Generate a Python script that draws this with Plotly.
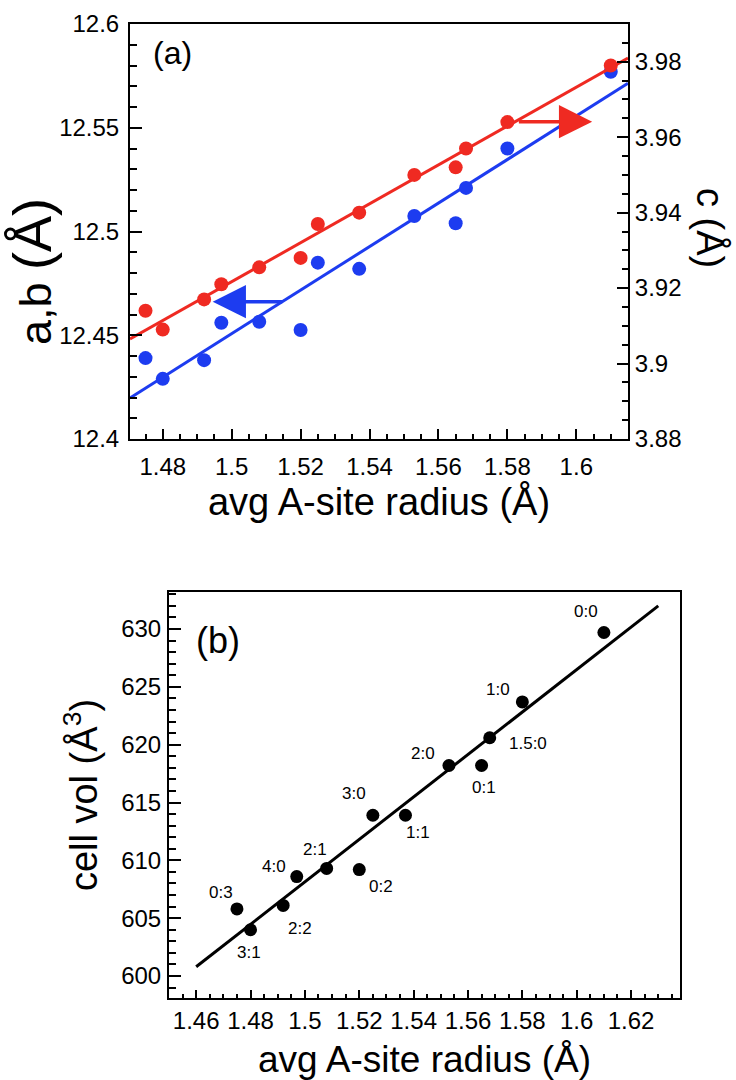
import plotly.graph_objects as go

# ---------------- data ----------------
radius = [1.475, 1.480, 1.492, 1.497, 1.508, 1.520, 1.525, 1.537, 1.553, 1.565, 1.568, 1.580, 1.610]
ab_lat = [12.439, 12.429, 12.438, 12.456, 12.4565, 12.4525, 12.485, 12.482, 12.5075, 12.504, 12.521, 12.540, 12.577]
c_lat = [3.914, 3.909, 3.917, 3.921, 3.9255, 3.928, 3.937, 3.940, 3.950, 3.952, 3.957, 3.964, 3.979]
cell_vol = [605.8, 604.0, 606.1, 608.6, 609.3, 609.2, 613.9, 613.9, 618.2, 618.2, 620.6, 623.7, 629.7]
ratio_labels = ["0:3", "3:1", "2:2", "4:0", "2:1", "0:2", "3:0", "1:1", "2:0", "0:1", "1.5:0", "1:0", "0:0"]

fit_x_a = [1.4705, 1.615]
fit_ab = [12.4198, 12.5714]
fit_c = [3.9065, 3.981]
fit_x_b = [1.46, 1.63]
fit_vol = [600.8, 632.0]

arrow_ab_x = [1.5151, 1.4945]   # tail, tip
arrow_ab_y = [12.4662, 12.4662]
arrow_c_x = [1.5829, 1.6046]
arrow_c_y = [3.9641, 3.9641]

xa_ticks = [1.48, 1.50, 1.52, 1.54, 1.56, 1.58, 1.60]
xa_text = ["1.48", "1.5", "1.52", "1.54", "1.56", "1.58", "1.6"]
ya_ticks = [12.40, 12.45, 12.50, 12.55, 12.60]
ya_text = ["12.4", "12.45", "12.5", "12.55", "12.6"]
y2a_ticks = [3.88, 3.90, 3.92, 3.94, 3.96, 3.98]
y2a_text = ["3.88", "3.9", "3.92", "3.94", "3.96", "3.98"]
xb_ticks = [1.46, 1.48, 1.50, 1.52, 1.54, 1.56, 1.58, 1.60, 1.62]
xb_text = ["1.46", "1.48", "1.5", "1.52", "1.54", "1.56", "1.58", "1.6", "1.62"]
yb_ticks = [600, 605, 610, 615, 620, 625, 630]
yb_text = ["600", "605", "610", "615", "620", "625", "630"]

# ---------------- style ----------------
W, H = 736, 1080
FONT = "Liberation Sans, Arial, Helvetica, sans-serif"
RED = "#ef2a22"
BLUE = "#1d3cf0"
label_shift = [(-16, 16), (-2, -23), (17, -23), (-23, 10), (-12, 19), (22, -17), (-19, 22),
               (13, -17), (-26, 12), (2, -22), (38, -6), (-24, 12), (-18, 21)]


def px(x):
    return x / W


def py(y):
    return 1 - y / H


fig = go.Figure()

# panel (a)
fig.add_trace(go.Scatter(x=fit_x_a, y=fit_c, mode="lines", line=dict(color=RED, width=3),
                         xaxis="x", yaxis="y2", showlegend=False, hoverinfo="skip"))
fig.add_trace(go.Scatter(x=fit_x_a, y=fit_ab, mode="lines", line=dict(color=BLUE, width=3),
                         xaxis="x", yaxis="y", showlegend=False, hoverinfo="skip"))
fig.add_trace(go.Scatter(x=radius, y=c_lat, mode="markers", marker=dict(color=RED, size=14),
                         xaxis="x", yaxis="y2", showlegend=False, name="c"))
fig.add_trace(go.Scatter(x=radius, y=ab_lat, mode="markers", marker=dict(color=BLUE, size=14),
                         xaxis="x", yaxis="y", showlegend=False, name="a,b"))

# panel (b)
fig.add_trace(go.Scatter(x=fit_x_b, y=fit_vol, mode="lines", line=dict(color="black", width=3),
                         xaxis="x3", yaxis="y3", showlegend=False, hoverinfo="skip"))
fig.add_trace(go.Scatter(x=radius, y=cell_vol, mode="markers", marker=dict(color="black", size=13),
                         xaxis="x3", yaxis="y3", showlegend=False, name="cell vol"))

tickfont_a = dict(family=FONT, size=24, color="black")
tickfont_b = dict(family=FONT, size=24, color="black")

common = dict(showgrid=False, zeroline=False, showline=True, linecolor="black", linewidth=2,
              ticks="inside", tickcolor="black", tickwidth=1.5, automargin=False)

fig.update_layout(
    width=W, height=H, template="none",
    paper_bgcolor="white", plot_bgcolor="white",
    margin=dict(l=0, r=0, t=0, b=0),
    font=dict(family=FONT, color="black"),
    xaxis=dict(domain=[px(130), px(628)], range=[1.4705, 1.615], anchor="y", mirror=True,
               tickmode="array", tickvals=xa_ticks, ticktext=xa_text, ticklen=10, tickfont=tickfont_a,
               ticklabelstandoff=5,
               minor=dict(ticks="inside", dtick=0.005, tick0=1.48, ticklen=5, tickcolor="black", tickwidth=1.5),
               title=dict(text="avg A-site radius (Å)", font=dict(family=FONT, size=38), standoff=0),
               **common),
    yaxis=dict(domain=[py(439), py(24)], range=[12.4, 12.6], anchor="x", mirror=True,
               tickmode="array", tickvals=ya_ticks, ticktext=ya_text, ticklen=12, tickfont=tickfont_a,
               ticklabelstandoff=4,
               minor=dict(ticks="inside", dtick=0.01, tick0=12.4, ticklen=7, tickcolor="black", tickwidth=1.5),
               **common),
    yaxis2=dict(domain=[py(439), py(24)], range=[3.88, 3.99], anchor="x", overlaying="y", side="right",
                tickmode="array", tickvals=y2a_ticks, ticktext=y2a_text, ticklen=11, tickfont=tickfont_a,
                minor=dict(ticks="inside", dtick=0.005, tick0=3.88, ticklen=6, tickcolor="black", tickwidth=1.5),
                **common),
    xaxis3=dict(domain=[px(169), px(680)], range=[1.45, 1.638], anchor="y3", mirror=True,
                tickmode="array", tickvals=xb_ticks, ticktext=xb_text, ticklen=8, tickfont=tickfont_b,
                minor=dict(ticks="inside", dtick=0.005, tick0=1.46, ticklen=4, tickcolor="black", tickwidth=1.5),
                title=dict(text="avg A-site radius (Å)", font=dict(family=FONT, size=37), standoff=13),
                **common),
    yaxis3=dict(domain=[py(998), py(592)], range=[598.1, 633.2], anchor="x3", mirror=True,
                tickmode="array", tickvals=yb_ticks, ticktext=yb_text, ticklen=12, tickfont=tickfont_b,
                ticklabelstandoff=1,
                minor=dict(ticks="inside", dtick=1, tick0=600, ticklen=7, tickcolor="black", tickwidth=1.5),
                title=dict(text="cell vol (Å<sup>3</sup>)", font=dict(family=FONT, size=38), standoff=12),
                **common),
)

ann = []
# arrows showing which axis each series belongs to
ann.append(dict(x=arrow_ab_x[1], y=arrow_ab_y[1], ax=arrow_ab_x[0], ay=arrow_ab_y[0],
                xref="x", yref="y", axref="x", ayref="y", text="", showarrow=True,
                arrowhead=2, arrowsize=1.9, arrowwidth=3.5, arrowcolor=BLUE))
ann.append(dict(x=arrow_c_x[1], y=arrow_c_y[1], ax=arrow_c_x[0], ay=arrow_c_y[0],
                xref="x", yref="y2", axref="x", ayref="y2", text="", showarrow=True,
                arrowhead=2, arrowsize=1.9, arrowwidth=3.5, arrowcolor=RED))
# panel labels
ann.append(dict(x=px(172), y=py(53), xref="paper", yref="paper", text="(a)", showarrow=False,
                xanchor="center", yanchor="middle",
                font=dict(family=FONT, size=32, color="black")))
ann.append(dict(x=px(218), y=py(640), xref="paper", yref="paper", text="(b)", showarrow=False,
                xanchor="center", yanchor="middle",
                font=dict(family=FONT, size=36, color="black")))
# y titles of panel (a)
ann.append(dict(x=px(32), y=py(272), xref="paper", yref="paper",
                text="a,b <span style='font-size:54px'>(Å)</span>", showarrow=False,
                xanchor="center", yanchor="middle",
                textangle=-90, font=dict(family=FONT, size=45, color="black")))
ann.append(dict(x=px(711), y=py(228), xref="paper", yref="paper", text="c (Å)", showarrow=False,
                xanchor="center", yanchor="middle",
                textangle=90, font=dict(family=FONT, size=38, color="black")))
# point labels in panel (b)
for xv, yv, lab, (dx, dy) in zip(radius, cell_vol, ratio_labels, label_shift):
    ann.append(dict(x=xv, y=yv, xref="x3", yref="y3", text=lab, showarrow=False,
                    xanchor="center", yanchor="middle",
                    xshift=dx, yshift=dy, font=dict(family=FONT, size=17, color="black")))

fig.update_layout(annotations=ann)

fig.write_html("out.html", config={"displayModeBar": False},
               post_script="document.body.style.margin='0px';")
